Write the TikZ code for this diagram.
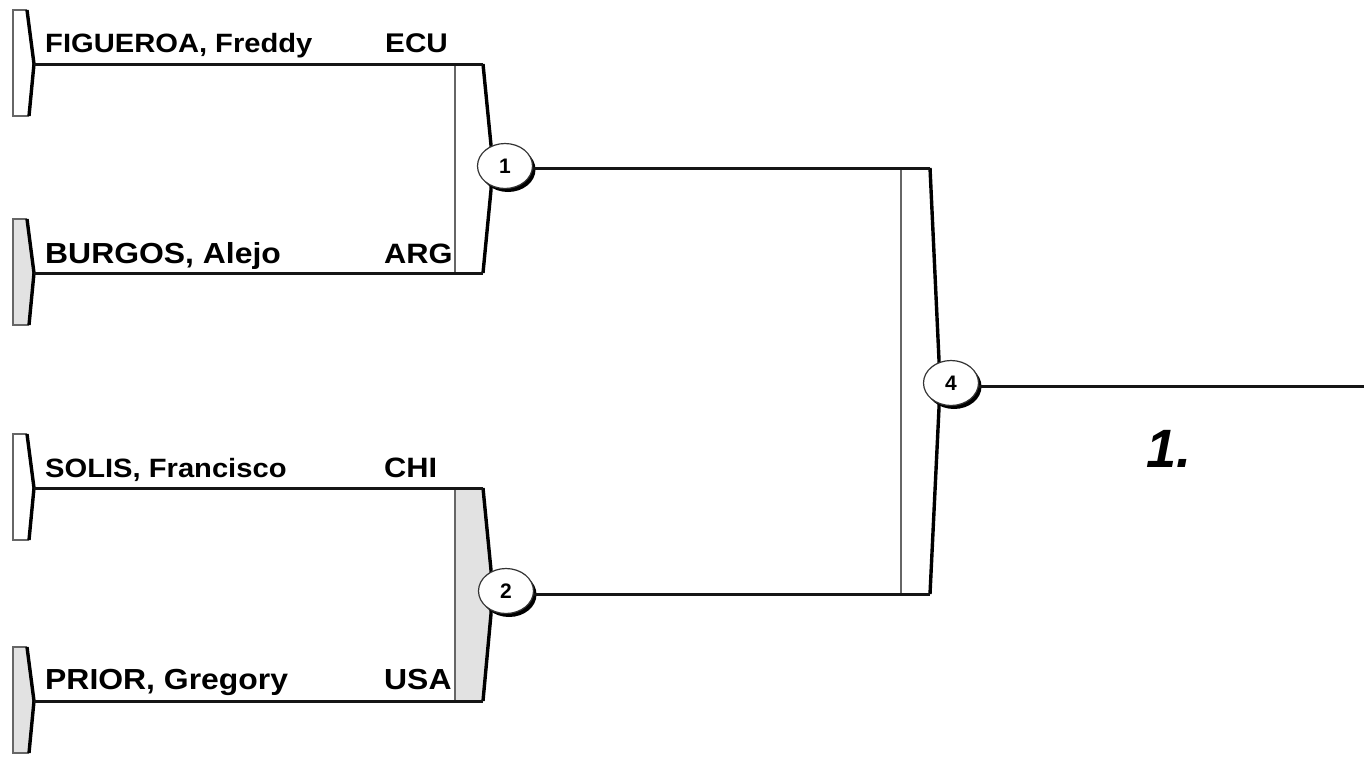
\documentclass[tikz,border=0pt]{standalone}
\usepackage{fontspec}
\usepackage{graphicx}
\setmainfont{Liberation Sans}
\usetikzlibrary{shapes.geometric}
\definecolor{tabgray}{HTML}{E2E2E2}
\definecolor{ink}{HTML}{151515}
\tikzset{
  playerline/.style={draw=ink, line width=3pt},
  thinedge/.style={draw=black!60, line width=1.2pt},
  thickedge/.style={draw=black, line width=3.4pt, line join=round},
  playertab/.pic={
    \fill[#1] (13,-54) -- (27,-54) -- (34,0) -- (29,52) -- (13,52) -- cycle;
    \draw[thinedge] (27,-54) -- (13,-54) -- (13,52) -- (29,52);
    \draw[thickedge] (27,-54) -- (34,0) -- (29,52);
  },
  matchnode/.style={ellipse, draw=black!80, line width=1.2pt, fill=white,
    minimum width=55pt, minimum height=45pt, inner sep=0pt,
    font=\fontsize{21}{21}\selectfont\bfseries},
  matchshadow/.style={ellipse, fill=black, minimum width=55pt, minimum height=45pt, inner sep=0pt},
  namelabel/.style={anchor=base west, inner sep=0pt},
}
\newcommand{\namefont}[1]{\fontsize{#1}{#1}\selectfont\bfseries}
\begin{document}
\begin{tikzpicture}[x=1pt,y=-1pt]
\useasboundingbox (0,0) rectangle (1364,758);

% left tabs
\pic at (0,64) {playertab=white};
\pic at (0,273) {playertab=tabgray};
\pic at (0,488) {playertab=white};
\pic at (0,701) {playertab=tabgray};
\coordinate (tF) at (34,64);
\coordinate (tB) at (34,273);
\coordinate (tS) at (34,488);
\coordinate (tP) at (34,701);

% bracket 1
\coordinate (b1tr) at (483,64);
\coordinate (b1br) at (483,273);
\fill[white] (455,64) -- (483,64) -- (491,145) -- (491,190) -- (483,273) -- (455,273) -- cycle;
\draw[thinedge] (455,64) -- (455,273);
\draw[thickedge] (483,64) -- (491,145) -- (491,190) -- (483,273);
\draw[playerline] (tF) -- (b1tr);
\draw[playerline] (tB) -- (b1br);

% bracket 2
\coordinate (b2tr) at (483,488);
\coordinate (b2br) at (483,701);
\fill[tabgray] (455,488) -- (483,488) -- (491,570) -- (491,614) -- (483,701) -- (455,701) -- cycle;
\draw[thinedge] (455,488) -- (455,701);
\draw[thickedge] (483,488) -- (491,570) -- (491,614) -- (483,701);
\draw[playerline] (tS) -- (b2tr);
\draw[playerline] (tP) -- (b2br);

% bracket 4
\coordinate (b4tr) at (930,168);
\coordinate (b4br) at (930,594);
\fill[white] (901,168) -- (930,168) -- (939,360) -- (939,408) -- (930,594) -- (901,594) -- cycle;
\draw[thinedge] (901,168) -- (901,594);
\draw[thickedge] (930,168) -- (939,360) -- (939,408) -- (930,594);

% match circles
\node[matchshadow] at (508,169.5) {};
\node[matchnode] (c1) at (505,166) {1};
\node[matchshadow] at (509,594.5) {};
\node[matchnode] (c2) at (506,591) {2};
\node[matchshadow] at (954,386.5) {};
\node[matchnode] (c4) at (951,383) {4};

\coordinate (fin) at (1364,386);
\draw[playerline] (c1.east |- 0,168) -- (b4tr);
\draw[playerline] (c2.east |- 0,594) -- (b4br);
\draw[playerline] (c4.east |- 0,386) -- (fin);

% names
\node[namelabel] (nF) at (45,52) {\scalebox{1.1}[1]{\namefont{26.5}FIGUEROA, Freddy}};
\node[namelabel] (nB) at (45,263) {\scalebox{1.1}[1]{\namefont{29}BURGOS, Alejo}};
\node[namelabel] (nS) at (45,477) {\scalebox{1.1}[1]{\namefont{26.5}SOLIS, Francisco}};
\node[namelabel] (nP) at (45,689) {\scalebox{1.1}[1]{\namefont{29}PRIOR, Gregory}};
\node[namelabel] (kF) at (385,52) {\scalebox{1.1}[1]{\namefont{27}ECU}};
\node[namelabel] (kB) at (384,263) {\scalebox{1.1}[1]{\namefont{28}ARG}};
\node[namelabel] (kS) at (384,477) {\scalebox{1.1}[1]{\namefont{28}CHI}};
\node[namelabel] (kP) at (384,689) {\scalebox{1.1}[1]{\namefont{29}USA}};

\node[namelabel] (place) at (1146,467) {\fontsize{54}{54}\selectfont\bfseries\itshape 1.};
\end{tikzpicture}
\end{document}
